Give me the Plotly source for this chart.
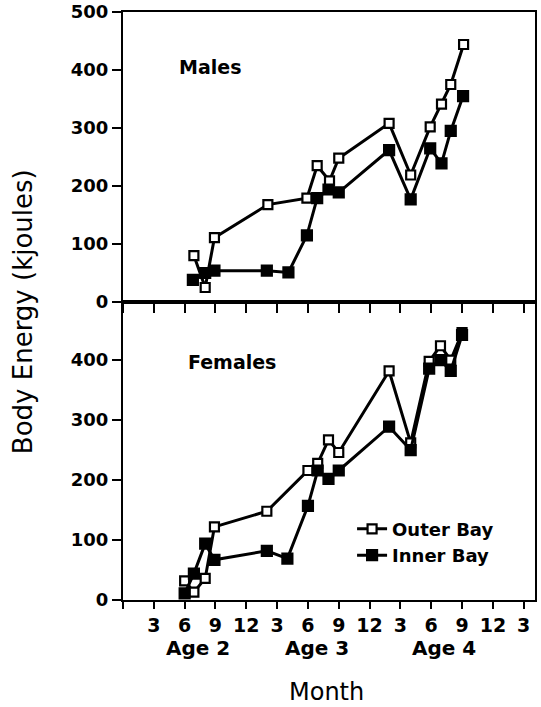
import plotly.graph_objects as go

# ---- data (month index: 0 = Dec before Age 2 year) ----
male_outer_x = [6.9, 8.0, 8.9, 14.1, 17.9, 18.9, 20.1, 21.0, 25.9, 28.0, 29.9, 31.0, 31.9, 33.15]
male_outer_y = [80, 25, 111, 168, 179, 235, 209, 248, 308, 219, 302, 341, 375, 444]
male_inner_x = [6.8, 8.0, 8.9, 14.0, 16.1, 17.9, 18.9, 20.0, 21.0, 25.9, 28.0, 29.9, 31.0, 31.9, 33.1]
male_inner_y = [38, 50, 54, 54, 51, 115, 179, 194, 189, 262, 177, 265, 239, 295, 355]

female_outer_x = [6.0, 6.9, 8.0, 8.9, 14.0, 18.0, 18.95, 20.0, 21.0, 25.9, 28.0, 29.8, 30.9, 31.9, 33.0]
female_outer_y = [32, 13, 36, 122, 148, 216, 228, 267, 246, 382, 262, 398, 424, 400, 446]
female_inner_x = [6.0, 6.9, 8.0, 8.9, 14.0, 16.0, 18.0, 18.95, 20.0, 21.0, 25.9, 28.0, 29.8, 30.9, 31.9, 33.0]
female_inner_y = [11, 44, 94, 67, 82, 69, 157, 216, 202, 216, 289, 250, 386, 400, 382, 442]

month_tickvals = [0, 3, 6, 9, 12, 15, 18, 21, 24, 27, 30, 33, 36, 39]
month_ticktext = ["", "3", "6", "9", "12", "3", "6", "9", "12", "3", "6", "9", "12", "3"]
age_labels = ["Age 2", "Age 3", "Age 4"]
age_label_x = [7.3, 18.9, 31.2]

FONT = "DejaVu Sans"

fig = go.Figure()

def add(x, y, name, filled, xa, ya, show):
    fig.add_trace(go.Scatter(
        x=x, y=y, mode="lines+markers", name=name,
        xaxis=xa, yaxis=ya, showlegend=show,
        line=dict(color="black", width=3),
        marker=dict(symbol="square", size=9 if not filled else 10,
                    color="black" if filled else "white",
                    line=dict(color="black", width=2.2)),
    ))

add(male_outer_x, male_outer_y, "<b>Outer Bay</b>", False, "x", "y", False)
add(male_inner_x, male_inner_y, "<b>Inner Bay</b>", True, "x", "y", False)
add(female_outer_x, female_outer_y, "<b>Outer Bay</b>", False, "x2", "y2", True)
add(female_inner_x, female_inner_y, "<b>Inner Bay</b>", True, "x2", "y2", True)

split = 298 / 588
axis_common = dict(showline=True, linecolor="black", linewidth=2, mirror=True,
                   showgrid=False, zeroline=False, ticks="outside",
                   tickcolor="black", tickwidth=2, automargin=False)
bold_tick = dict(family=FONT, size=18, weight="bold")

fig.update_layout(
    width=541, height=707,
    margin=dict(l=123, r=6, t=12, b=107),
    paper_bgcolor="white", plot_bgcolor="white",
    font=dict(family=FONT, color="black", size=18),
    xaxis=dict(**axis_common, domain=[0, 1], anchor="y", range=[0, 40.1],
               tickvals=month_tickvals, ticktext=month_ticktext,
               showticklabels=False, ticklen=9, matches="x2"),
    xaxis2=dict(**axis_common, domain=[0, 1], anchor="y2", range=[0, 40.1],
                tickvals=month_tickvals, ticktext=month_ticktext,
                ticklen=7, tickfont=dict(family=FONT, size=19, weight="bold")),
    yaxis=dict(**axis_common, domain=[split, 1], anchor="x", range=[0, 500],
               tickvals=[0, 100, 200, 300, 400, 500], ticklen=9,
               tickfont=bold_tick),
    yaxis2=dict(**axis_common, domain=[0, split], anchor="x2", range=[0, 497],
                tickvals=[0, 100, 200, 300, 400], ticklen=9,
                tickfont=bold_tick),
    legend=dict(x=0.556, y=0.152, xanchor="left", yanchor="top",
                bgcolor="rgba(0,0,0,0)", font=dict(size=18), itemwidth=30,
                tracegroupgap=0),
    showlegend=True,
)

annotations = [
    dict(text="<b>Males</b>", x=5.3, y=405, xref="x", yref="y", xanchor="left",
         yanchor="middle", showarrow=False, font=dict(size=19)),
    dict(text="<b>Females</b>", x=6.1, y=397, xref="x2", yref="y2", xanchor="left",
         yanchor="middle", showarrow=False, font=dict(size=19)),
    dict(text="Body Energy (kjoules)", x=-0.243, y=0.491, xref="paper", yref="paper",
         textangle=-90, xanchor="center", yanchor="middle", showarrow=False,
         font=dict(size=26)),
    dict(text="Month", x=0.495, y=-0.157, xref="paper", yref="paper",
         xanchor="center", yanchor="middle", showarrow=False, font=dict(size=24)),
]
for lab, xv in zip(age_labels, age_label_x):
    annotations.append(dict(text="<b>" + lab + "</b>", x=xv, y=-0.0816, xref="x2",
                            yref="paper", xanchor="center", yanchor="middle",
                            showarrow=False, font=dict(size=20)))
fig.update_layout(annotations=annotations)

fig.write_html("out.html", config={"displayModeBar": False},
               post_script="document.body.style.margin='0';")
